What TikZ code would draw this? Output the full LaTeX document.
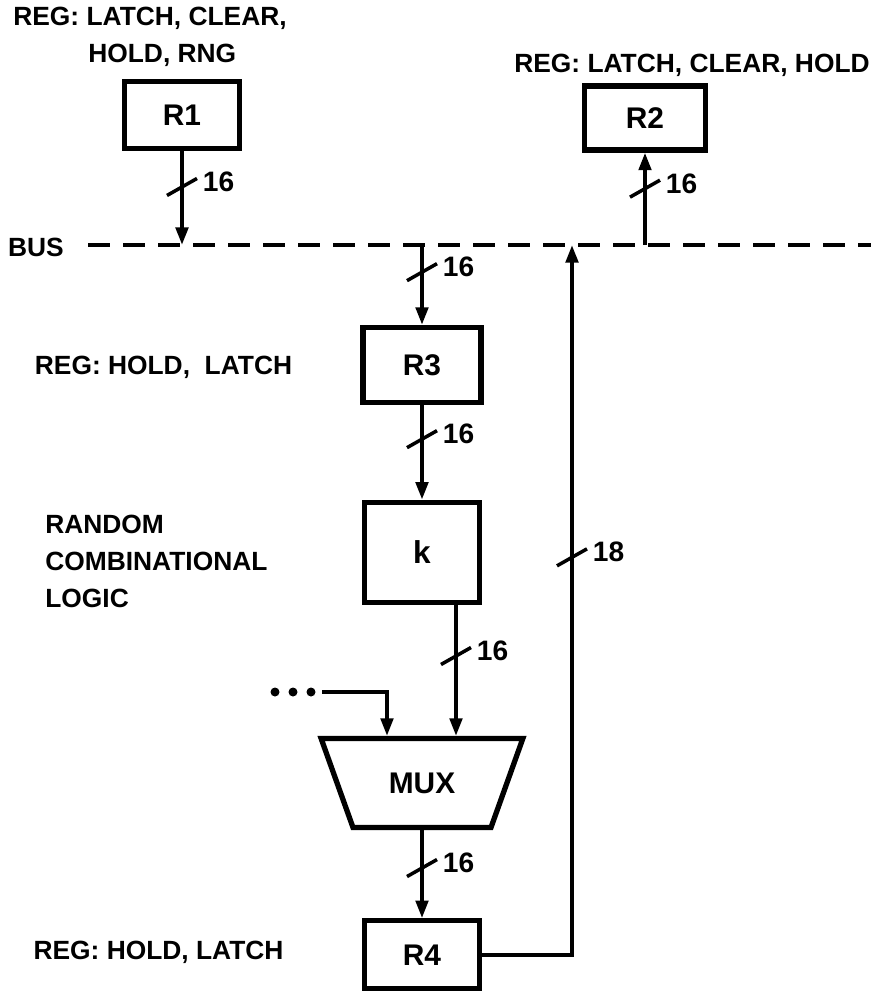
\documentclass[tikz,border=0pt]{standalone}
\usepackage{fontspec}
\setmainfont{Liberation Sans}
\newfontfamily\typefont{Liberation Mono}
\usetikzlibrary{shapes.geometric,arrows.meta,positioning,calc}

\begin{document}
\begin{tikzpicture}[
    % --- STYLES ---
    reg/.style={
        rectangle, draw=black, fill=white,
        line width=3pt,
        minimum width=2.3cm,
        minimum height=1.35cm,
        font=\bfseries\fontsize{17}{20}\selectfont
    },
    muxbox/.style={
        trapezium, shape border rotate=180,
        trapezium left angle=61, trapezium right angle=61,
        trapezium stretches=true,
        draw=black, fill=white, line width=3pt,
        minimum width=4.06cm, minimum height=1.78cm,
        font=\bfseries\fontsize{17}{20}\selectfont
    },
    note/.style={font=\bfseries\fontsize{15}{21}\selectfont, align=left, inner sep=0pt},
    wire/.style={line width=2.2pt, -{Triangle[length=10pt, width=7pt]}},
    bus/.style={line width=2.3pt, dash pattern=on 0.44cm off 0.26cm},
    nbits/.style={font=\bfseries\fontsize{16}{18}\selectfont, inner sep=0pt, right=0.38cm, yshift=3pt},
    slash/.pic={\draw[-, solid, line width=2pt] (-0.3,-0.17) -- (0.3,0.17);}
]
\useasboundingbox (0,0) rectangle (17.42,-19.82);

% ===== 1. REGISTERS & LOGIC =====
\node[reg] (R1) at (3.64,-2.30) {R1};
\node[reg, minimum width=2.42cm, minimum height=1.28cm] (R2) at (12.9,-2.36) {R2};
\node[reg, minimum width=2.36cm, minimum height=1.5cm] (R3) at (8.44,-7.3) {R3};
\node[reg, minimum height=2cm, below=1.89cm of R3, font=\typefont\bfseries\fontsize{18}{20}\selectfont] (logic) {k};
\node[muxbox, below=2.62cm of logic] (mux) {MUX};
\node[reg, minimum height=1.36cm, below=1.76cm of mux] (R4) {R4};

% ===== 2. LABELS =====
\node[note, anchor=north west] (lab1) at (0.26,-0.14) {REG: LATCH, CLEAR,\\\hspace*{1.5cm}HOLD, RNG};
\node[note] (lab2) at (13.84,-1.3) {REG: LATCH, CLEAR, HOLD};
\node[note] (lab3) at (3.27,-7.35) {REG: HOLD,\ \ LATCH};
\node[note, anchor=west] (lab4) at (0.9,-11.23) {RANDOM\\COMBINATIONAL\\LOGIC};
\node[note] (lab5) at (3.17,-19.04) {REG: HOLD, LATCH};

% ===== 3. BUS =====
\def\busY{-4.9}
\node[note] (buslabel) at (0.72,-4.94) {BUS};
\coordinate (bus west) at (1.76,\busY);
\coordinate (bus east) at (17.42,\busY);
\draw[bus] (bus west) -- (bus east);

\coordinate (tap1) at (R1.south |- bus west);
\coordinate (tap2) at (R2.south |- bus west);
\coordinate (tap3) at (R3.north |- bus west);
\coordinate (tap4) at (11.44,\busY);

% ===== 4. CONNECTIONS =====
\draw[wire] (R1.south) -- pic[pos=0.38]{slash} node[pos=0.38, nbits] (n1) {16} (tap1);
\draw[wire] (tap2) -- pic[pos=0.61]{slash} node[pos=0.61, nbits] (n2) {16} (R2.south);
\draw[wire] (tap3) -- pic[pos=0.34]{slash} node[pos=0.34, nbits] (n3) {16} (R3.north);
\draw[wire] (R3.south) -- pic[pos=0.36]{slash} node[pos=0.36, nbits] (n4) {16} (logic.north);

% mux inputs
\path (mux.north) ++(-0.7,0) coordinate (mux in1) ++(1.38,0) coordinate (mux in2);
\draw[wire] (logic.south -| mux in2) -- pic[pos=0.39]{slash} node[pos=0.39, nbits] (n5) {16} (mux in2);

\coordinate (more) at (6.44,-13.84);
\foreach \dx in {0.22,0.58,0.94}
    \fill ($(more)+(-\dx,0)$) circle (0.09);
\draw[wire] (more) -| (mux in1);

% output and feedback
\draw[wire] (mux.south) -- pic[pos=0.43]{slash} node[pos=0.43, nbits] (n6) {16} (R4.north);
\draw[wire] (R4.east) -| pic[pos=0.78]{slash} node[pos=0.78, nbits] (n7) {18} (tap4);

\end{tikzpicture}
\end{document}
